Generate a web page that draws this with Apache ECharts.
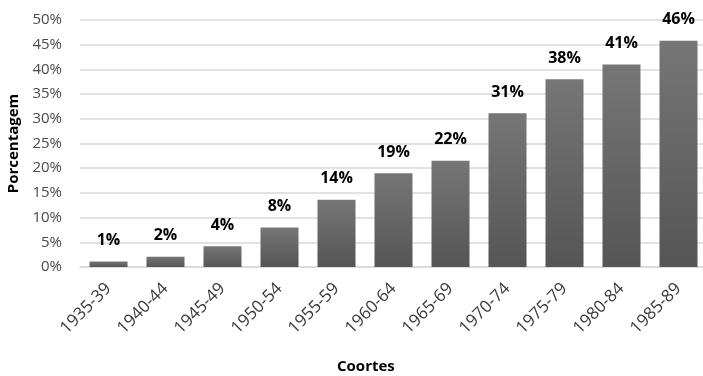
<!DOCTYPE html>
<html>
<head>
<meta charset="utf-8">
<script src="https://cdn.jsdelivr.net/npm/echarts@6/dist/echarts.min.js"></script>
<style>html,body{margin:0;padding:0;background:#fff}#c{width:703px;height:376px}</style>
</head>
<body>
<div id="c"></div>
<script>
var categories = ['1935-39','1940-44','1945-49','1950-54','1955-59','1960-64','1965-69','1970-74','1975-79','1980-84','1985-89'];
var values = [1.1, 2.1, 4.2, 8.0, 13.6, 19.0, 21.5, 31.1, 38.0, 41.0, 45.8];
var valueLabels = ['1%','2%','4%','8%','14%','19%','22%','31%','38%','41%','46%'];
var yTicks = [0, 5, 10, 15, 20, 25, 30, 35, 40, 45, 50];

var chart = echarts.init(document.getElementById('c'));
var font = '"Open Sans", "Noto Sans", sans-serif';
chart.setOption({
  animation: false,
  title: {
    text: 'Coortes', left: 332, top: 354,
    textStyle: {fontFamily: font, fontSize: 15, fontWeight: 'bold', color: '#000'}
  },
  grid: {left: 80, top: 20, width: 627, height: 247, containLabel: false, outerBoundsMode: 'none'},
  xAxis: {
    type: 'category', data: categories,
    axisLine: {lineStyle: {color: '#d9d9d9', width: 1.5}},
    axisTick: {show: false},
    axisLabel: {rotate: 45, interval: 0, margin: 19, fontFamily: font, fontSize: 17, color: '#3a3a3a'}
  },
  yAxis: {
    type: 'value', min: yTicks[0], max: yTicks[yTicks.length - 1], interval: 5,
    name: 'Porcentagem', nameLocation: 'middle', nameGap: 59, nameRotate: 90,
    nameTextStyle: {fontFamily: font, fontSize: 15, fontWeight: 'bold', color: '#000'},
    axisLine: {show: false}, axisTick: {show: false},
    splitLine: {lineStyle: {color: '#d9d9d9', width: 1.5}},
    axisLabel: {margin: 18, fontFamily: font, fontSize: 15, color: '#4a4a4a', formatter: '{value}%'}
  },
  series: [{
    type: 'bar', data: values, barWidth: 38,
    itemStyle: {
      color: new echarts.graphic.LinearGradient(0, 0, 0, 1, [
        {offset: 0, color: '#767676'}, {offset: 1, color: '#555555'}
      ])
    },
    label: {
      show: true, position: 'top', distance: 13,
      fontFamily: font, fontSize: 16, fontWeight: 'bold', color: '#000',
      formatter: function (p) { return valueLabels[p.dataIndex]; }
    }
  }]
});
</script>
</body>
</html>
